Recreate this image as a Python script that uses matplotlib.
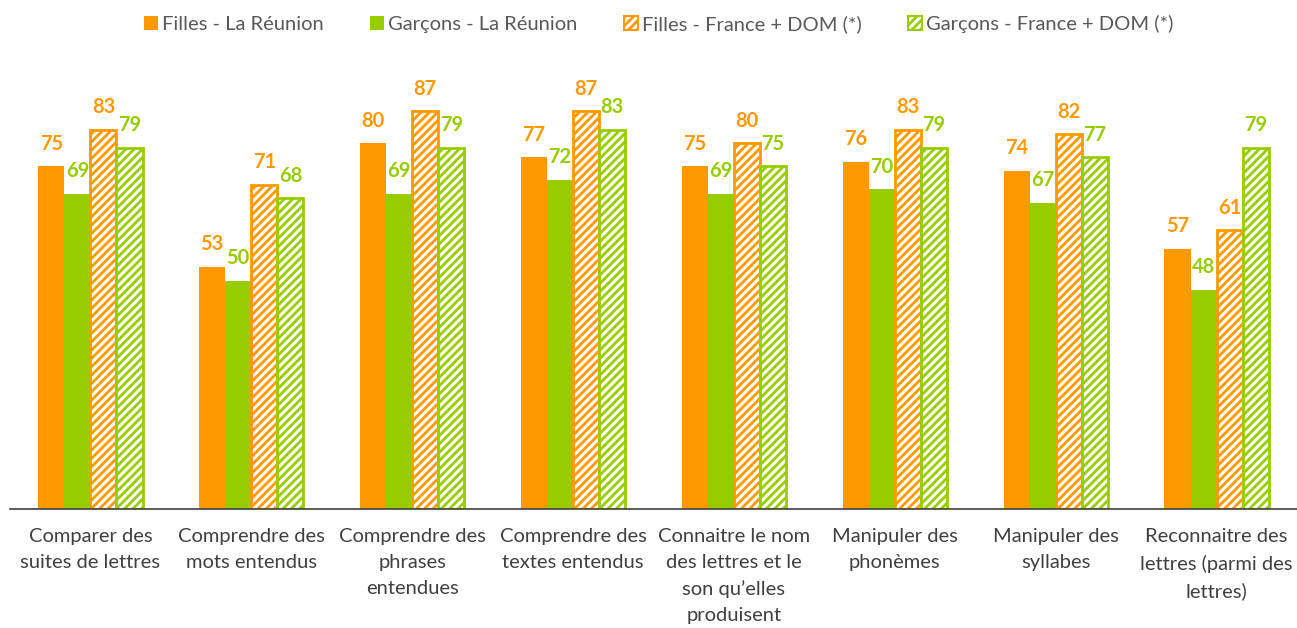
import numpy as np
import matplotlib
matplotlib.use("Agg")
import matplotlib.pyplot as plt
from matplotlib.patches import Patch

# ---------------------------------------------------------
# Data
# ---------------------------------------------------------
categories = [
    "Comparer des\nsuites de lettres",
    "Comprendre des\nmots entendus",
    "Comprendre des\nphrases\nentendues",
    "Comprendre des\ntextes entendus",
    "Connaitre le nom\ndes lettres et le\nson qu\u2019elles\nproduisent",
    "Manipuler des\nphonèmes",
    "Manipuler des\nsyllabes",
    "Reconnaitre des\nlettres (parmi des\nlettres)",
]
filles_reunion = [75, 53, 80, 77, 75, 76, 74, 57]
garcons_reunion = [69, 50, 69, 72, 69, 70, 67, 48]
filles_france = [83, 71, 87, 87, 80, 83, 82, 61]
garcons_france = [79, 68, 79, 83, 75, 79, 77, 79]

series_labels = ["Filles - La Réunion", "Garçons - La Réunion",
                 "Filles - France + DOM (*)", "Garçons - France + DOM (*)"]

orange = "#FF9900"
green = "#99CC00"
text_grey = "#404040"

plt.rcParams['font.family'] = ['Lato', 'DejaVu Sans']
plt.rcParams['hatch.linewidth'] = 2.0

# ---------------------------------------------------------
# Figure
# ---------------------------------------------------------
fig = plt.figure(figsize=(12.97, 6.28), dpi=100)
ax = fig.add_axes([10 / 1297, 1 - 509 / 628, 1287 / 1297, (509 - 60) / 628])

x = np.arange(len(categories))
w = 0.162

series = [
    (filles_reunion, dict(color=orange, edgecolor=orange, linewidth=0), orange),
    (garcons_reunion, dict(color=green, edgecolor=green, linewidth=0), green),
    (filles_france, dict(facecolor="white", edgecolor=orange, hatch="////", linewidth=2), orange),
    (garcons_france, dict(facecolor="white", edgecolor=green, hatch="////", linewidth=2), green),
]

for i, (vals, style, col) in enumerate(series):
    pos = x + (i - 1.5) * w
    ax.bar(pos, vals, width=w, label=series_labels[i], **style)
    for xp, v in zip(pos, vals):
        ax.annotate(str(v), (xp, v), xytext=(0, 9), textcoords="offset points",
                    ha="center", va="bottom", fontsize=14.5, fontweight="bold",
                    color=col)

ax.set_xlim(-0.5, len(categories) - 0.5)
ax.set_ylim(0, (509 - 60) / 4.57)
ax.set_yticks([])
ax.set_xticks(x)
ax.set_xticklabels(categories, fontsize=14.5, color=text_grey, linespacing=1.62)
ax.tick_params(axis="x", length=0, pad=14)
for s in ["top", "right", "left"]:
    ax.spines[s].set_visible(False)
ax.spines["bottom"].set_color("#404040")
ax.spines["bottom"].set_linewidth(1.2)

# ---------------------------------------------------------
# Legend
# ---------------------------------------------------------
handles = [
    Patch(facecolor=orange, edgecolor=orange, linewidth=0),
    Patch(facecolor=green, edgecolor=green, linewidth=0),
    Patch(facecolor="white", edgecolor=orange, hatch="////", linewidth=1.5),
    Patch(facecolor="white", edgecolor=green, hatch="////", linewidth=1.5),
]
leg = fig.legend(handles, series_labels, loc="center", bbox_to_anchor=(0.508, 1 - 24 / 628),
                 ncol=4, frameon=False, fontsize=14.5, handlelength=0.7, handleheight=0.7,
                 handletextpad=0.2, columnspacing=2.3)
for t in leg.get_texts():
    t.set_color("#595959")

plt.savefig("out.png", dpi=100)
plt.close()
